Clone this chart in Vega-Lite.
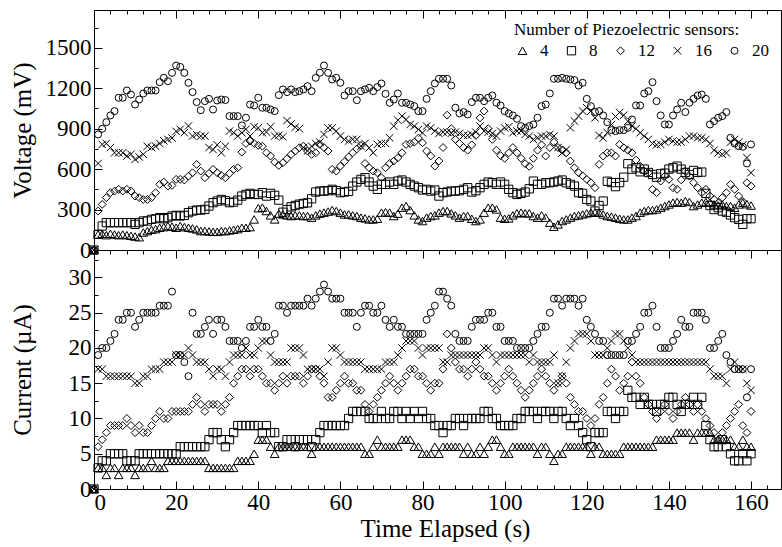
{
"$schema": "https://vega.github.io/schema/vega-lite/v6.json",
"padding": {"left": 9, "top": 9, "right": 0, "bottom": 0},
"background": "white",
"spacing": 0,
"bounds": "flush",
"config": {
  "view": {"stroke": "black", "strokeWidth": 1},
  "font": "Liberation Serif, Times New Roman, DejaVu Serif, serif",
  "axis": {"labelFont": "Liberation Serif, Times New Roman, DejaVu Serif, serif", "titleFont": "Liberation Serif, Times New Roman, DejaVu Serif, serif", "labelColor": "black", "titleColor": "black", "tickColor": "black", "domain": false, "grid": false, "labelFontSize": 23, "titleFontSize": 25, "titleFontWeight": "normal", "tickWidth": 1},
  "legend": {"orient": "top-right", "direction": "horizontal", "columns": 5, "offset": 12, "titleFont": "Liberation Serif, Times New Roman, DejaVu Serif, serif", "titleFontSize": 17, "titleFontWeight": "normal", "titleColor": "black", "titleLimit": 500, "labelFont": "Liberation Serif, Times New Roman, DejaVu Serif, serif", "labelFontSize": 17, "labelColor": "black", "labelOffset": 9, "columnPadding": 14, "symbolStrokeColor": "black", "symbolStrokeWidth": 1, "symbolFillColor": "transparent", "padding": 0, "titlePadding": 3}
},
"data": {"values": [
{"t":0,"n":4,"v":0,"c":0},{"t":0,"n":8,"v":0,"c":0},{"t":0,"n":12,"v":0,"c":0},{"t":0,"n":16,"v":0,"c":0},{"t":0,"n":20,"v":0,"c":0},
{"t":1,"n":4,"v":115,"c":3},{"t":2,"n":4,"v":120,"c":3},{"t":3,"n":4,"v":110,"c":2},{"t":4,"n":4,"v":120,"c":3},{"t":5,"n":4,"v":115,"c":3},{"t":6,"n":4,"v":110,"c":2},{"t":7,"n":4,"v":115,"c":3},{"t":8,"n":4,"v":110,"c":3},{"t":9,"n":4,"v":105,"c":3},{"t":10,"n":4,"v":100,"c":2},
{"t":11,"n":4,"v":95,"c":3},{"t":12,"n":4,"v":130,"c":3},{"t":13,"n":4,"v":140,"c":3},{"t":14,"n":4,"v":150,"c":4},{"t":15,"n":4,"v":155,"c":3},{"t":16,"n":4,"v":165,"c":3},{"t":17,"n":4,"v":170,"c":3},{"t":18,"n":4,"v":178,"c":4},{"t":19,"n":4,"v":173,"c":4},{"t":20,"n":4,"v":165,"c":4},
{"t":21,"n":4,"v":178,"c":4},{"t":22,"n":4,"v":170,"c":4},{"t":23,"n":4,"v":165,"c":4},{"t":24,"n":4,"v":160,"c":4},{"t":25,"n":4,"v":153,"c":4},{"t":26,"n":4,"v":141,"c":4},{"t":27,"n":4,"v":141,"c":4},{"t":28,"n":4,"v":138,"c":3},{"t":29,"n":4,"v":135,"c":3},{"t":30,"n":4,"v":135,"c":3},
{"t":31,"n":4,"v":140,"c":3},{"t":32,"n":4,"v":140,"c":3},{"t":33,"n":4,"v":145,"c":3},{"t":34,"n":4,"v":150,"c":3},{"t":35,"n":4,"v":155,"c":4},{"t":36,"n":4,"v":165,"c":4},{"t":37,"n":4,"v":165,"c":4},{"t":38,"n":4,"v":170,"c":4},{"t":39,"n":4,"v":227,"c":5},{"t":40,"n":4,"v":310,"c":7},
{"t":41,"n":4,"v":314,"c":7},{"t":42,"n":4,"v":289,"c":7},{"t":43,"n":4,"v":257,"c":6},{"t":44,"n":4,"v":227,"c":5},{"t":45,"n":4,"v":270,"c":6},{"t":46,"n":4,"v":264,"c":6},{"t":47,"n":4,"v":257,"c":6},{"t":48,"n":4,"v":252,"c":6},{"t":49,"n":4,"v":257,"c":6},{"t":50,"n":4,"v":257,"c":6},
{"t":51,"n":4,"v":252,"c":6},{"t":52,"n":4,"v":252,"c":6},{"t":53,"n":4,"v":240,"c":5},{"t":54,"n":4,"v":257,"c":6},{"t":55,"n":4,"v":270,"c":6},{"t":56,"n":4,"v":277,"c":6},{"t":57,"n":4,"v":285,"c":6},{"t":58,"n":4,"v":296,"c":6},{"t":59,"n":4,"v":289,"c":6},{"t":60,"n":4,"v":277,"c":6},
{"t":61,"n":4,"v":264,"c":6},{"t":62,"n":4,"v":264,"c":6},{"t":63,"n":4,"v":257,"c":6},{"t":64,"n":4,"v":252,"c":6},{"t":65,"n":4,"v":240,"c":6},{"t":66,"n":4,"v":235,"c":5},{"t":67,"n":4,"v":227,"c":5},{"t":68,"n":4,"v":227,"c":6},{"t":69,"n":4,"v":232,"c":7},{"t":70,"n":4,"v":277,"c":6},
{"t":71,"n":4,"v":280,"c":6},{"t":72,"n":4,"v":277,"c":6},{"t":73,"n":4,"v":252,"c":6},{"t":74,"n":4,"v":270,"c":6},{"t":75,"n":4,"v":314,"c":7},{"t":76,"n":4,"v":326,"c":7},{"t":77,"n":4,"v":296,"c":7},{"t":78,"n":4,"v":257,"c":6},{"t":79,"n":4,"v":227,"c":6},{"t":80,"n":4,"v":215,"c":5},
{"t":81,"n":4,"v":240,"c":5},{"t":82,"n":4,"v":252,"c":5},{"t":83,"n":4,"v":257,"c":6},{"t":84,"n":4,"v":277,"c":5},{"t":85,"n":4,"v":289,"c":6},{"t":86,"n":4,"v":289,"c":6},{"t":87,"n":4,"v":272,"c":6},{"t":88,"n":4,"v":257,"c":6},{"t":89,"n":4,"v":240,"c":6},{"t":90,"n":4,"v":252,"c":5},
{"t":91,"n":4,"v":252,"c":6},{"t":92,"n":4,"v":232,"c":5},{"t":93,"n":4,"v":215,"c":5},{"t":94,"n":4,"v":227,"c":6},{"t":95,"n":4,"v":277,"c":5},{"t":96,"n":4,"v":314,"c":6},{"t":97,"n":4,"v":314,"c":7},{"t":98,"n":4,"v":301,"c":7},{"t":99,"n":4,"v":240,"c":6},{"t":100,"n":4,"v":232,"c":5},
{"t":101,"n":4,"v":235,"c":5},{"t":102,"n":4,"v":257,"c":6},{"t":103,"n":4,"v":272,"c":6},{"t":104,"n":4,"v":277,"c":6},{"t":105,"n":4,"v":272,"c":6},{"t":106,"n":4,"v":272,"c":6},{"t":107,"n":4,"v":252,"c":6},{"t":108,"n":4,"v":240,"c":5},{"t":109,"n":4,"v":257,"c":6},{"t":110,"n":4,"v":240,"c":6},
{"t":111,"n":4,"v":203,"c":5},{"t":112,"n":4,"v":173,"c":4},{"t":113,"n":4,"v":190,"c":5},{"t":114,"n":4,"v":215,"c":5},{"t":115,"n":4,"v":227,"c":6},{"t":116,"n":4,"v":240,"c":6},{"t":117,"n":4,"v":252,"c":6},{"t":118,"n":4,"v":257,"c":6},{"t":119,"n":4,"v":264,"c":6},{"t":120,"n":4,"v":272,"c":6},
{"t":121,"n":4,"v":277,"c":5},{"t":122,"n":4,"v":277,"c":6},{"t":123,"n":4,"v":277,"c":6},{"t":124,"n":4,"v":264,"c":5},{"t":125,"n":4,"v":252,"c":5},{"t":126,"n":4,"v":247,"c":5},{"t":127,"n":4,"v":240,"c":5},{"t":128,"n":4,"v":232,"c":5},{"t":129,"n":4,"v":227,"c":6},{"t":130,"n":4,"v":227,"c":6},
{"t":131,"n":4,"v":240,"c":6},{"t":132,"n":4,"v":252,"c":6},{"t":133,"n":4,"v":277,"c":6},{"t":134,"n":4,"v":289,"c":6},{"t":135,"n":4,"v":296,"c":6},{"t":136,"n":4,"v":296,"c":6},{"t":137,"n":4,"v":301,"c":7},{"t":138,"n":4,"v":314,"c":7},{"t":139,"n":4,"v":326,"c":7},{"t":140,"n":4,"v":338,"c":7},
{"t":141,"n":4,"v":351,"c":7},{"t":142,"n":4,"v":356,"c":8},{"t":143,"n":4,"v":351,"c":8},{"t":144,"n":4,"v":363,"c":8},{"t":145,"n":4,"v":356,"c":8},{"t":146,"n":4,"v":326,"c":7},{"t":147,"n":4,"v":338,"c":8},{"t":148,"n":4,"v":351,"c":8},{"t":149,"n":4,"v":356,"c":8},{"t":150,"n":4,"v":351,"c":8},
{"t":151,"n":4,"v":338,"c":7},{"t":152,"n":4,"v":331,"c":7},{"t":153,"n":4,"v":338,"c":7},{"t":154,"n":4,"v":326,"c":7},{"t":155,"n":4,"v":326,"c":7},{"t":156,"n":4,"v":314,"c":6},{"t":157,"n":4,"v":338,"c":6},{"t":158,"n":4,"v":351,"c":7},{"t":159,"n":4,"v":340,"c":6},{"t":160,"n":4,"v":330,"c":6},
{"t":1,"n":8,"v":116,"c":3},{"t":2,"n":8,"v":178,"c":4},{"t":3,"n":8,"v":203,"c":4},{"t":4,"n":8,"v":203,"c":5},{"t":5,"n":8,"v":203,"c":5},{"t":6,"n":8,"v":203,"c":5},{"t":7,"n":8,"v":203,"c":5},{"t":8,"n":8,"v":203,"c":4},{"t":9,"n":8,"v":203,"c":4},{"t":10,"n":8,"v":190,"c":4},
{"t":11,"n":8,"v":203,"c":5},{"t":12,"n":8,"v":215,"c":5},{"t":13,"n":8,"v":215,"c":5},{"t":14,"n":8,"v":227,"c":5},{"t":15,"n":8,"v":232,"c":5},{"t":16,"n":8,"v":240,"c":5},{"t":17,"n":8,"v":232,"c":5},{"t":18,"n":8,"v":240,"c":5},{"t":19,"n":8,"v":252,"c":5},{"t":20,"n":8,"v":257,"c":5},
{"t":21,"n":8,"v":252,"c":6},{"t":22,"n":8,"v":257,"c":6},{"t":23,"n":8,"v":277,"c":6},{"t":24,"n":8,"v":289,"c":6},{"t":25,"n":8,"v":296,"c":6},{"t":26,"n":8,"v":296,"c":6},{"t":27,"n":8,"v":301,"c":6},{"t":28,"n":8,"v":326,"c":7},{"t":29,"n":8,"v":351,"c":8},{"t":30,"n":8,"v":363,"c":8},
{"t":31,"n":8,"v":375,"c":7},{"t":32,"n":8,"v":365,"c":6},{"t":33,"n":8,"v":351,"c":7},{"t":34,"n":8,"v":355,"c":8},{"t":35,"n":8,"v":370,"c":9},{"t":36,"n":8,"v":400,"c":9},{"t":37,"n":8,"v":412,"c":9},{"t":38,"n":8,"v":420,"c":9},{"t":39,"n":8,"v":412,"c":9},{"t":40,"n":8,"v":412,"c":9},
{"t":41,"n":8,"v":425,"c":8},{"t":42,"n":8,"v":400,"c":9},{"t":43,"n":8,"v":420,"c":8},{"t":44,"n":8,"v":405,"c":8},{"t":45,"n":8,"v":370,"c":6},{"t":46,"n":8,"v":280,"c":6},{"t":47,"n":8,"v":300,"c":7},{"t":48,"n":8,"v":320,"c":7},{"t":49,"n":8,"v":330,"c":6},{"t":50,"n":8,"v":340,"c":7},
{"t":51,"n":8,"v":345,"c":7},{"t":52,"n":8,"v":350,"c":7},{"t":53,"n":8,"v":380,"c":6},{"t":54,"n":8,"v":430,"c":7},{"t":55,"n":8,"v":437,"c":8},{"t":56,"n":8,"v":437,"c":9},{"t":57,"n":8,"v":440,"c":9},{"t":58,"n":8,"v":450,"c":9},{"t":59,"n":8,"v":440,"c":9},{"t":60,"n":8,"v":425,"c":9},
{"t":61,"n":8,"v":430,"c":9},{"t":62,"n":8,"v":435,"c":10},{"t":63,"n":8,"v":474,"c":11},{"t":64,"n":8,"v":504,"c":11},{"t":65,"n":8,"v":524,"c":11},{"t":66,"n":8,"v":536,"c":11},{"t":67,"n":8,"v":504,"c":10},{"t":68,"n":8,"v":474,"c":10},{"t":69,"n":8,"v":450,"c":10},{"t":70,"n":8,"v":487,"c":11},
{"t":71,"n":8,"v":487,"c":10},{"t":72,"n":8,"v":504,"c":10},{"t":73,"n":8,"v":487,"c":11},{"t":74,"n":8,"v":511,"c":11},{"t":75,"n":8,"v":519,"c":10},{"t":76,"n":8,"v":504,"c":11},{"t":77,"n":8,"v":487,"c":10},{"t":78,"n":8,"v":474,"c":11},{"t":79,"n":8,"v":462,"c":10},{"t":80,"n":8,"v":445,"c":11},
{"t":81,"n":8,"v":450,"c":10},{"t":82,"n":8,"v":437,"c":10},{"t":83,"n":8,"v":445,"c":9},{"t":84,"n":8,"v":400,"c":9},{"t":85,"n":8,"v":425,"c":8},{"t":86,"n":8,"v":430,"c":9},{"t":87,"n":8,"v":437,"c":9},{"t":88,"n":8,"v":437,"c":10},{"t":89,"n":8,"v":440,"c":10},{"t":90,"n":8,"v":450,"c":9},
{"t":91,"n":8,"v":462,"c":10},{"t":92,"n":8,"v":430,"c":10},{"t":93,"n":8,"v":440,"c":10},{"t":94,"n":8,"v":462,"c":10},{"t":95,"n":8,"v":487,"c":11},{"t":96,"n":8,"v":504,"c":11},{"t":97,"n":8,"v":499,"c":10},{"t":98,"n":8,"v":487,"c":10},{"t":99,"n":8,"v":504,"c":9},{"t":100,"n":8,"v":487,"c":9},
{"t":101,"n":8,"v":450,"c":9},{"t":102,"n":8,"v":425,"c":9},{"t":103,"n":8,"v":412,"c":10},{"t":104,"n":8,"v":420,"c":10},{"t":105,"n":8,"v":430,"c":11},{"t":106,"n":8,"v":454,"c":11},{"t":107,"n":8,"v":511,"c":11},{"t":108,"n":8,"v":487,"c":10},{"t":109,"n":8,"v":487,"c":11},{"t":110,"n":8,"v":499,"c":11},
{"t":111,"n":8,"v":499,"c":11},{"t":112,"n":8,"v":504,"c":10},{"t":113,"n":8,"v":511,"c":11},{"t":114,"n":8,"v":519,"c":11},{"t":115,"n":8,"v":499,"c":10},{"t":116,"n":8,"v":487,"c":9},{"t":117,"n":8,"v":474,"c":10},{"t":118,"n":8,"v":425,"c":9},{"t":119,"n":8,"v":420,"c":8},{"t":120,"n":8,"v":375,"c":7},
{"t":121,"n":8,"v":363,"c":6},{"t":122,"n":8,"v":289,"c":8},{"t":123,"n":8,"v":330,"c":8},{"t":124,"n":8,"v":363,"c":8},{"t":125,"n":8,"v":510,"c":11},{"t":126,"n":8,"v":500,"c":11},{"t":127,"n":8,"v":470,"c":10},{"t":128,"n":8,"v":500,"c":11},{"t":129,"n":8,"v":540,"c":11},{"t":130,"n":8,"v":640,"c":14},
{"t":131,"n":8,"v":600,"c":13},{"t":132,"n":8,"v":610,"c":13},{"t":133,"n":8,"v":580,"c":12},{"t":134,"n":8,"v":600,"c":13},{"t":135,"n":8,"v":575,"c":12},{"t":136,"n":8,"v":560,"c":12},{"t":137,"n":8,"v":540,"c":11},{"t":138,"n":8,"v":565,"c":12},{"t":139,"n":8,"v":570,"c":12},{"t":140,"n":8,"v":600,"c":13},
{"t":141,"n":8,"v":610,"c":13},{"t":142,"n":8,"v":622,"c":12},{"t":143,"n":8,"v":600,"c":11},{"t":144,"n":8,"v":575,"c":12},{"t":145,"n":8,"v":560,"c":12},{"t":146,"n":8,"v":590,"c":13},{"t":147,"n":8,"v":575,"c":12},{"t":148,"n":8,"v":578,"c":13},{"t":149,"n":8,"v":420,"c":9},{"t":150,"n":8,"v":330,"c":7},
{"t":151,"n":8,"v":300,"c":6},{"t":152,"n":8,"v":314,"c":6},{"t":153,"n":8,"v":289,"c":7},{"t":154,"n":8,"v":280,"c":6},{"t":155,"n":8,"v":260,"c":5},{"t":156,"n":8,"v":240,"c":4},{"t":157,"n":8,"v":227,"c":4},{"t":158,"n":8,"v":190,"c":5},{"t":159,"n":8,"v":232,"c":4},{"t":160,"n":8,"v":232,"c":5},
{"t":1,"n":12,"v":289,"c":6},{"t":2,"n":12,"v":338,"c":7},{"t":3,"n":12,"v":388,"c":8},{"t":4,"n":12,"v":425,"c":9},{"t":5,"n":12,"v":437,"c":9},{"t":6,"n":12,"v":450,"c":9},{"t":7,"n":12,"v":437,"c":9},{"t":8,"n":12,"v":450,"c":10},{"t":9,"n":12,"v":437,"c":9},{"t":10,"n":12,"v":400,"c":8},
{"t":11,"n":12,"v":388,"c":9},{"t":12,"n":12,"v":375,"c":8},{"t":13,"n":12,"v":375,"c":8},{"t":14,"n":12,"v":388,"c":9},{"t":15,"n":12,"v":425,"c":10},{"t":16,"n":12,"v":487,"c":11},{"t":17,"n":12,"v":504,"c":10},{"t":18,"n":12,"v":474,"c":10},{"t":19,"n":12,"v":479,"c":11},{"t":20,"n":12,"v":524,"c":11},
{"t":21,"n":12,"v":524,"c":11},{"t":22,"n":12,"v":519,"c":11},{"t":23,"n":12,"v":548,"c":11},{"t":24,"n":12,"v":573,"c":12},{"t":25,"n":12,"v":635,"c":13},{"t":26,"n":12,"v":585,"c":12},{"t":27,"n":12,"v":536,"c":11},{"t":28,"n":12,"v":568,"c":12},{"t":29,"n":12,"v":598,"c":12},{"t":30,"n":12,"v":573,"c":12},
{"t":31,"n":12,"v":553,"c":11},{"t":32,"n":12,"v":536,"c":12},{"t":33,"n":12,"v":568,"c":13},{"t":34,"n":12,"v":598,"c":15},{"t":35,"n":12,"v":610,"c":16},{"t":36,"n":12,"v":726,"c":17},{"t":37,"n":12,"v":790,"c":17},{"t":38,"n":12,"v":808,"c":16},{"t":39,"n":12,"v":790,"c":17},{"t":40,"n":12,"v":776,"c":17},
{"t":41,"n":12,"v":770,"c":16},{"t":42,"n":12,"v":721,"c":15},{"t":43,"n":12,"v":697,"c":15},{"t":44,"n":12,"v":652,"c":14},{"t":45,"n":12,"v":627,"c":15},{"t":46,"n":12,"v":647,"c":16},{"t":47,"n":12,"v":677,"c":15},{"t":48,"n":12,"v":709,"c":16},{"t":49,"n":12,"v":734,"c":16},{"t":50,"n":12,"v":758,"c":16},
{"t":51,"n":12,"v":770,"c":15},{"t":52,"n":12,"v":734,"c":16},{"t":53,"n":12,"v":709,"c":17},{"t":54,"n":12,"v":721,"c":17},{"t":55,"n":12,"v":783,"c":16},{"t":56,"n":12,"v":760,"c":15},{"t":57,"n":12,"v":734,"c":13},{"t":58,"n":12,"v":598,"c":13},{"t":59,"n":12,"v":585,"c":14},{"t":60,"n":12,"v":622,"c":15},
{"t":61,"n":12,"v":655,"c":16},{"t":62,"n":12,"v":690,"c":15},{"t":63,"n":12,"v":721,"c":15},{"t":64,"n":12,"v":750,"c":14},{"t":65,"n":12,"v":775,"c":14},{"t":66,"n":12,"v":642,"c":12},{"t":67,"n":12,"v":610,"c":11},{"t":68,"n":12,"v":585,"c":12},{"t":69,"n":12,"v":573,"c":13},{"t":70,"n":12,"v":536,"c":14},
{"t":71,"n":12,"v":610,"c":15},{"t":72,"n":12,"v":642,"c":16},{"t":73,"n":12,"v":660,"c":15},{"t":74,"n":12,"v":684,"c":14},{"t":75,"n":12,"v":721,"c":15},{"t":76,"n":12,"v":783,"c":16},{"t":77,"n":12,"v":790,"c":17},{"t":78,"n":12,"v":800,"c":17},{"t":79,"n":12,"v":830,"c":16},{"t":80,"n":12,"v":795,"c":16},
{"t":81,"n":12,"v":734,"c":15},{"t":82,"n":12,"v":697,"c":14},{"t":83,"n":12,"v":622,"c":15},{"t":84,"n":12,"v":660,"c":15},{"t":85,"n":12,"v":760,"c":17},{"t":86,"n":12,"v":1000,"c":22},{"t":87,"n":12,"v":900,"c":20},{"t":88,"n":12,"v":820,"c":18},{"t":89,"n":12,"v":790,"c":17},{"t":90,"n":12,"v":760,"c":17},
{"t":91,"n":12,"v":740,"c":16},{"t":92,"n":12,"v":780,"c":17},{"t":93,"n":12,"v":850,"c":18},{"t":94,"n":12,"v":980,"c":17},{"t":95,"n":12,"v":1030,"c":16},{"t":96,"n":12,"v":900,"c":16},{"t":97,"n":12,"v":820,"c":15},{"t":98,"n":12,"v":740,"c":14},{"t":99,"n":12,"v":700,"c":15},{"t":100,"n":12,"v":680,"c":16},
{"t":101,"n":12,"v":720,"c":17},{"t":102,"n":12,"v":760,"c":16},{"t":103,"n":12,"v":720,"c":15},{"t":104,"n":12,"v":680,"c":14},{"t":105,"n":12,"v":640,"c":13},{"t":106,"n":12,"v":620,"c":14},{"t":107,"n":12,"v":680,"c":15},{"t":108,"n":12,"v":740,"c":16},{"t":109,"n":12,"v":780,"c":17},{"t":110,"n":12,"v":697,"c":16},
{"t":111,"n":12,"v":760,"c":15},{"t":112,"n":12,"v":800,"c":14},{"t":113,"n":12,"v":760,"c":15},{"t":114,"n":12,"v":740,"c":16},{"t":115,"n":12,"v":721,"c":15},{"t":116,"n":12,"v":660,"c":13},{"t":117,"n":12,"v":610,"c":12},{"t":118,"n":12,"v":573,"c":11},{"t":119,"n":12,"v":550,"c":11},{"t":120,"n":12,"v":524,"c":10},
{"t":121,"n":12,"v":499,"c":9},{"t":122,"n":12,"v":462,"c":10},{"t":123,"n":12,"v":635,"c":12},{"t":124,"n":12,"v":697,"c":13},{"t":125,"n":12,"v":721,"c":15},{"t":126,"n":12,"v":721,"c":17},{"t":127,"n":12,"v":697,"c":16},{"t":128,"n":12,"v":783,"c":14},{"t":129,"n":12,"v":758,"c":15},{"t":130,"n":12,"v":740,"c":16},
{"t":131,"n":12,"v":721,"c":18},{"t":132,"n":12,"v":667,"c":16},{"t":133,"n":12,"v":622,"c":15},{"t":134,"n":12,"v":585,"c":13},{"t":135,"n":12,"v":573,"c":12},{"t":136,"n":12,"v":450,"c":11},{"t":137,"n":12,"v":425,"c":10},{"t":138,"n":12,"v":511,"c":11},{"t":139,"n":12,"v":548,"c":12},{"t":140,"n":12,"v":524,"c":11},
{"t":141,"n":12,"v":462,"c":10},{"t":142,"n":12,"v":450,"c":11},{"t":143,"n":12,"v":520,"c":12},{"t":144,"n":12,"v":585,"c":13},{"t":145,"n":12,"v":548,"c":12},{"t":146,"n":12,"v":499,"c":11},{"t":147,"n":12,"v":462,"c":12},{"t":148,"n":12,"v":425,"c":11},{"t":149,"n":12,"v":450,"c":10},{"t":150,"n":12,"v":400,"c":9},
{"t":151,"n":12,"v":375,"c":8},{"t":152,"n":12,"v":351,"c":7},{"t":153,"n":12,"v":388,"c":8},{"t":154,"n":12,"v":425,"c":9},{"t":155,"n":12,"v":487,"c":10},{"t":156,"n":12,"v":450,"c":11},{"t":157,"n":12,"v":400,"c":12},{"t":158,"n":12,"v":360,"c":9},{"t":159,"n":12,"v":499,"c":8},{"t":160,"n":12,"v":474,"c":11},
{"t":1,"n":16,"v":642,"c":17},{"t":2,"n":16,"v":783,"c":17},{"t":3,"n":16,"v":790,"c":16},{"t":4,"n":16,"v":760,"c":16},{"t":5,"n":16,"v":721,"c":16},{"t":6,"n":16,"v":721,"c":16},{"t":7,"n":16,"v":721,"c":16},{"t":8,"n":16,"v":697,"c":16},{"t":9,"n":16,"v":710,"c":16},{"t":10,"n":16,"v":672,"c":15},
{"t":11,"n":16,"v":690,"c":15},{"t":12,"n":16,"v":710,"c":16},{"t":13,"n":16,"v":770,"c":16},{"t":14,"n":16,"v":760,"c":17},{"t":15,"n":16,"v":770,"c":17},{"t":16,"n":16,"v":790,"c":17},{"t":17,"n":16,"v":810,"c":18},{"t":18,"n":16,"v":820,"c":18},{"t":19,"n":16,"v":830,"c":18},{"t":20,"n":16,"v":880,"c":19},
{"t":21,"n":16,"v":895,"c":19},{"t":22,"n":16,"v":870,"c":19},{"t":23,"n":16,"v":920,"c":20},{"t":24,"n":16,"v":845,"c":19},{"t":25,"n":16,"v":855,"c":18},{"t":26,"n":16,"v":845,"c":18},{"t":27,"n":16,"v":845,"c":18},{"t":28,"n":16,"v":760,"c":17},{"t":29,"n":16,"v":745,"c":16},{"t":30,"n":16,"v":780,"c":17},
{"t":31,"n":16,"v":721,"c":17},{"t":32,"n":16,"v":770,"c":16},{"t":33,"n":16,"v":882,"c":18},{"t":34,"n":16,"v":870,"c":19},{"t":35,"n":16,"v":845,"c":19},{"t":36,"n":16,"v":870,"c":19},{"t":37,"n":16,"v":895,"c":20},{"t":38,"n":16,"v":845,"c":19},{"t":39,"n":16,"v":914,"c":19},{"t":40,"n":16,"v":905,"c":20},
{"t":41,"n":16,"v":870,"c":21},{"t":42,"n":16,"v":875,"c":21},{"t":43,"n":16,"v":914,"c":19},{"t":44,"n":16,"v":845,"c":18},{"t":45,"n":16,"v":850,"c":18},{"t":46,"n":16,"v":840,"c":18},{"t":47,"n":16,"v":960,"c":18},{"t":48,"n":16,"v":935,"c":20},{"t":49,"n":16,"v":910,"c":20},{"t":50,"n":16,"v":900,"c":20},
{"t":51,"n":16,"v":760,"c":19},{"t":52,"n":16,"v":735,"c":17},{"t":53,"n":16,"v":770,"c":17},{"t":54,"n":16,"v":790,"c":17},{"t":55,"n":16,"v":800,"c":17},{"t":56,"n":16,"v":857,"c":16},{"t":57,"n":16,"v":906,"c":18},{"t":58,"n":16,"v":906,"c":20},{"t":59,"n":16,"v":882,"c":20},{"t":60,"n":16,"v":845,"c":19},
{"t":61,"n":16,"v":820,"c":18},{"t":62,"n":16,"v":808,"c":18},{"t":63,"n":16,"v":820,"c":18},{"t":64,"n":16,"v":820,"c":18},{"t":65,"n":16,"v":770,"c":18},{"t":66,"n":16,"v":790,"c":17},{"t":67,"n":16,"v":758,"c":17},{"t":68,"n":16,"v":721,"c":17},{"t":69,"n":16,"v":783,"c":17},{"t":70,"n":16,"v":790,"c":17},
{"t":71,"n":16,"v":790,"c":18},{"t":72,"n":16,"v":832,"c":18},{"t":73,"n":16,"v":919,"c":18},{"t":74,"n":16,"v":963,"c":19},{"t":75,"n":16,"v":993,"c":20},{"t":76,"n":16,"v":968,"c":21},{"t":77,"n":16,"v":931,"c":21},{"t":78,"n":16,"v":919,"c":21},{"t":79,"n":16,"v":894,"c":20},{"t":80,"n":16,"v":869,"c":19},
{"t":81,"n":16,"v":919,"c":20},{"t":82,"n":16,"v":906,"c":20},{"t":83,"n":16,"v":882,"c":20},{"t":84,"n":16,"v":865,"c":20},{"t":85,"n":16,"v":874,"c":18},{"t":86,"n":16,"v":874,"c":18},{"t":87,"n":16,"v":865,"c":19},{"t":88,"n":16,"v":874,"c":19},{"t":89,"n":16,"v":865,"c":19},{"t":90,"n":16,"v":850,"c":19},
{"t":91,"n":16,"v":850,"c":19},{"t":92,"n":16,"v":857,"c":19},{"t":93,"n":16,"v":874,"c":19},{"t":94,"n":16,"v":919,"c":19},{"t":95,"n":16,"v":882,"c":20},{"t":96,"n":16,"v":874,"c":20},{"t":97,"n":16,"v":865,"c":19},{"t":98,"n":16,"v":845,"c":18},{"t":99,"n":16,"v":882,"c":19},{"t":100,"n":16,"v":906,"c":19},
{"t":101,"n":16,"v":914,"c":19},{"t":102,"n":16,"v":869,"c":19},{"t":103,"n":16,"v":882,"c":19},{"t":104,"n":16,"v":882,"c":19},{"t":105,"n":16,"v":857,"c":19},{"t":106,"n":16,"v":845,"c":18},{"t":107,"n":16,"v":820,"c":19},{"t":108,"n":16,"v":832,"c":18},{"t":109,"n":16,"v":845,"c":18},{"t":110,"n":16,"v":845,"c":18},
{"t":111,"n":16,"v":857,"c":18},{"t":112,"n":16,"v":845,"c":19},{"t":113,"n":16,"v":760,"c":15},{"t":114,"n":16,"v":720,"c":16},{"t":115,"n":16,"v":745,"c":18},{"t":116,"n":16,"v":906,"c":20},{"t":117,"n":16,"v":956,"c":21},{"t":118,"n":16,"v":993,"c":22},{"t":119,"n":16,"v":1030,"c":22},{"t":120,"n":16,"v":1055,"c":22},
{"t":121,"n":16,"v":1030,"c":21},{"t":122,"n":16,"v":980,"c":19},{"t":123,"n":16,"v":850,"c":19},{"t":124,"n":16,"v":830,"c":19},{"t":125,"n":16,"v":870,"c":20},{"t":126,"n":16,"v":930,"c":21},{"t":127,"n":16,"v":990,"c":22},{"t":128,"n":16,"v":1020,"c":22},{"t":129,"n":16,"v":1000,"c":21},{"t":130,"n":16,"v":955,"c":20},
{"t":131,"n":16,"v":920,"c":19},{"t":132,"n":16,"v":900,"c":18},{"t":133,"n":16,"v":870,"c":18},{"t":134,"n":16,"v":845,"c":18},{"t":135,"n":16,"v":820,"c":18},{"t":136,"n":16,"v":790,"c":18},{"t":137,"n":16,"v":780,"c":18},{"t":138,"n":16,"v":783,"c":18},{"t":139,"n":16,"v":800,"c":18},{"t":140,"n":16,"v":820,"c":18},
{"t":141,"n":16,"v":808,"c":18},{"t":142,"n":16,"v":800,"c":18},{"t":143,"n":16,"v":800,"c":18},{"t":144,"n":16,"v":820,"c":18},{"t":145,"n":16,"v":845,"c":18},{"t":146,"n":16,"v":845,"c":18},{"t":147,"n":16,"v":832,"c":18},{"t":148,"n":16,"v":832,"c":18},{"t":149,"n":16,"v":820,"c":18},{"t":150,"n":16,"v":790,"c":17},
{"t":151,"n":16,"v":740,"c":16},{"t":152,"n":16,"v":720,"c":16},{"t":153,"n":16,"v":710,"c":16},{"t":154,"n":16,"v":720,"c":15},{"t":155,"n":16,"v":800,"c":17},{"t":156,"n":16,"v":820,"c":18},{"t":157,"n":16,"v":800,"c":17},{"t":158,"n":16,"v":780,"c":17},{"t":159,"n":16,"v":685,"c":15},{"t":160,"n":16,"v":573,"c":14},
{"t":1,"n":20,"v":857,"c":19},{"t":2,"n":20,"v":899,"c":20},{"t":3,"n":20,"v":948,"c":20},{"t":4,"n":20,"v":998,"c":21},{"t":5,"n":20,"v":1030,"c":22},{"t":6,"n":20,"v":1129,"c":24},{"t":7,"n":20,"v":1129,"c":24},{"t":8,"n":20,"v":1183,"c":25},{"t":9,"n":20,"v":1153,"c":25},{"t":10,"n":20,"v":1079,"c":23},
{"t":11,"n":20,"v":1116,"c":24},{"t":12,"n":20,"v":1161,"c":25},{"t":13,"n":20,"v":1183,"c":25},{"t":14,"n":20,"v":1183,"c":25},{"t":15,"n":20,"v":1183,"c":25},{"t":16,"n":20,"v":1245,"c":26},{"t":17,"n":20,"v":1277,"c":26},{"t":18,"n":20,"v":1252,"c":26},{"t":19,"n":20,"v":1314,"c":28},{"t":20,"n":20,"v":1368,"c":19},
{"t":21,"n":20,"v":1358,"c":19},{"t":22,"n":20,"v":1314,"c":18},{"t":23,"n":20,"v":1240,"c":16},{"t":24,"n":20,"v":1171,"c":25},{"t":25,"n":20,"v":1097,"c":22},{"t":26,"n":20,"v":1037,"c":22},{"t":27,"n":20,"v":1104,"c":23},{"t":28,"n":20,"v":1121,"c":24},{"t":29,"n":20,"v":1042,"c":22},{"t":30,"n":20,"v":1109,"c":24},
{"t":31,"n":20,"v":1116,"c":24},{"t":32,"n":20,"v":1112,"c":23},{"t":33,"n":20,"v":993,"c":21},{"t":34,"n":20,"v":993,"c":21},{"t":35,"n":20,"v":993,"c":21},{"t":36,"n":20,"v":924,"c":20},{"t":37,"n":20,"v":981,"c":21},{"t":38,"n":20,"v":1079,"c":23},{"t":39,"n":20,"v":1072,"c":23},{"t":40,"n":20,"v":1129,"c":24},
{"t":41,"n":20,"v":1055,"c":23},{"t":42,"n":20,"v":1055,"c":23},{"t":43,"n":20,"v":1042,"c":21},{"t":44,"n":20,"v":1030,"c":22},{"t":45,"n":20,"v":1149,"c":26},{"t":46,"n":20,"v":1191,"c":26},{"t":47,"n":20,"v":1171,"c":25},{"t":48,"n":20,"v":1191,"c":26},{"t":49,"n":20,"v":1171,"c":26},{"t":50,"n":20,"v":1178,"c":26},
{"t":51,"n":20,"v":1191,"c":26},{"t":52,"n":20,"v":1215,"c":27},{"t":53,"n":20,"v":1178,"c":26},{"t":54,"n":20,"v":1277,"c":27},{"t":55,"n":20,"v":1315,"c":28},{"t":56,"n":20,"v":1368,"c":29},{"t":57,"n":20,"v":1314,"c":28},{"t":58,"n":20,"v":1265,"c":27},{"t":59,"n":20,"v":1277,"c":27},{"t":60,"n":20,"v":1240,"c":27},
{"t":61,"n":20,"v":1146,"c":25},{"t":62,"n":20,"v":1178,"c":25},{"t":63,"n":20,"v":1178,"c":25},{"t":64,"n":20,"v":1111,"c":23},{"t":65,"n":20,"v":1178,"c":25},{"t":66,"n":20,"v":1191,"c":26},{"t":67,"n":20,"v":1203,"c":26},{"t":68,"n":20,"v":1178,"c":25},{"t":69,"n":20,"v":1208,"c":25},{"t":70,"n":20,"v":1235,"c":26},
{"t":71,"n":20,"v":1158,"c":24},{"t":72,"n":20,"v":1092,"c":23},{"t":73,"n":20,"v":1116,"c":24},{"t":74,"n":20,"v":1161,"c":23},{"t":75,"n":20,"v":1092,"c":23},{"t":76,"n":20,"v":1092,"c":22},{"t":77,"n":20,"v":1079,"c":22},{"t":78,"n":20,"v":1067,"c":22},{"t":79,"n":20,"v":1030,"c":22},{"t":80,"n":20,"v":1030,"c":22},
{"t":81,"n":20,"v":1121,"c":24},{"t":82,"n":20,"v":1178,"c":25},{"t":83,"n":20,"v":1235,"c":26},{"t":84,"n":20,"v":1270,"c":28},{"t":85,"n":20,"v":1270,"c":28},{"t":86,"n":20,"v":1270,"c":27},{"t":87,"n":20,"v":1220,"c":26},{"t":88,"n":20,"v":1055,"c":22},{"t":89,"n":20,"v":1013,"c":21},{"t":90,"n":20,"v":1023,"c":21},
{"t":91,"n":20,"v":1005,"c":21},{"t":92,"n":20,"v":1097,"c":23},{"t":93,"n":20,"v":1129,"c":24},{"t":94,"n":20,"v":1129,"c":24},{"t":95,"n":20,"v":1104,"c":24},{"t":96,"n":20,"v":1129,"c":25},{"t":97,"n":20,"v":1146,"c":25},{"t":98,"n":20,"v":1092,"c":23},{"t":99,"n":20,"v":1072,"c":23},{"t":100,"n":20,"v":1030,"c":21},
{"t":101,"n":20,"v":1013,"c":21},{"t":102,"n":20,"v":998,"c":21},{"t":103,"n":20,"v":973,"c":20},{"t":104,"n":20,"v":919,"c":20},{"t":105,"n":20,"v":906,"c":20},{"t":106,"n":20,"v":919,"c":20},{"t":107,"n":20,"v":931,"c":21},{"t":108,"n":20,"v":981,"c":22},{"t":109,"n":20,"v":1067,"c":23},{"t":110,"n":20,"v":1079,"c":23},
{"t":111,"n":20,"v":1161,"c":25},{"t":112,"n":20,"v":1270,"c":27},{"t":113,"n":20,"v":1270,"c":27},{"t":114,"n":20,"v":1277,"c":26},{"t":115,"n":20,"v":1270,"c":27},{"t":116,"n":20,"v":1265,"c":27},{"t":117,"n":20,"v":1260,"c":27},{"t":118,"n":20,"v":1220,"c":26},{"t":119,"n":20,"v":1240,"c":27},{"t":120,"n":20,"v":1121,"c":24},
{"t":121,"n":20,"v":1067,"c":23},{"t":122,"n":20,"v":1023,"c":22},{"t":123,"n":20,"v":1030,"c":21},{"t":124,"n":20,"v":998,"c":21},{"t":125,"n":20,"v":948,"c":19},{"t":126,"n":20,"v":889,"c":19},{"t":127,"n":20,"v":882,"c":19},{"t":128,"n":20,"v":889,"c":19},{"t":129,"n":20,"v":889,"c":19},{"t":130,"n":20,"v":906,"c":21},
{"t":131,"n":20,"v":968,"c":21},{"t":132,"n":20,"v":1072,"c":22},{"t":133,"n":20,"v":1072,"c":23},{"t":134,"n":20,"v":1161,"c":25},{"t":135,"n":20,"v":1178,"c":25},{"t":136,"n":20,"v":1245,"c":26},{"t":137,"n":20,"v":1104,"c":23},{"t":138,"n":20,"v":998,"c":20},{"t":139,"n":20,"v":931,"c":20},{"t":140,"n":20,"v":931,"c":20},
{"t":141,"n":20,"v":998,"c":21},{"t":142,"n":20,"v":1042,"c":22},{"t":143,"n":20,"v":1092,"c":24},{"t":144,"n":20,"v":1023,"c":23},{"t":145,"n":20,"v":1092,"c":23},{"t":146,"n":20,"v":1121,"c":25},{"t":147,"n":20,"v":1146,"c":25},{"t":148,"n":20,"v":1153,"c":25},{"t":149,"n":20,"v":1121,"c":24},{"t":150,"n":20,"v":931,"c":20},
{"t":151,"n":20,"v":956,"c":20},{"t":152,"n":20,"v":981,"c":21},{"t":153,"n":20,"v":993,"c":22},{"t":154,"n":20,"v":1023,"c":19},{"t":155,"n":20,"v":832,"c":18},{"t":156,"n":20,"v":790,"c":17},{"t":157,"n":20,"v":770,"c":17},{"t":158,"n":20,"v":766,"c":17},{"t":159,"n":20,"v":642,"c":13},{"t":160,"n":20,"v":783,"c":17}
]},
"vconcat": [
  {
    "width": 687,
    "height": 240,
    "mark": {"type": "point", "filled": false, "stroke": "black", "strokeWidth": 1, "opacity": 1},
    "encoding": {
      "x": {"field": "t", "type": "quantitative", "scale": {"domain": [0, 167.3], "nice": false, "zero": false},
            "axis": {"orient": "top", "values": [0,4,8,12,16,20,24,28,32,36,40,44,48,52,56,60,64,68,72,76,80,84,88,92,96,100,104,108,112,116,120,124,128,132,136,140,144,148,152,156,160,164], "labels": false, "title": null,
                     "tickSize": {"condition": {"test": "datum.value % 20 === 0", "value": -8}, "value": -4}}},
      "y": {"field": "v", "type": "quantitative", "scale": {"domain": [0, 1780], "nice": false},
            "axis": {"values": [0,150,300,450,600,750,900,1050,1200,1350,1500,1650], "format": "d", "labelExpr": "datum.value % 300 === 0 ? datum.label : ''",
                     "tickSize": {"condition": {"test": "datum.value % 300 === 0", "value": -8}, "value": -4},
                     "labelPadding": 11, "title": "Voltage (mV)", "titlePadding": 5, "minExtent": 54, "maxExtent": 54}},
      "shape": {"field": "n", "type": "nominal", "title": "Number of Piezoelectric sensors:", "scale": {"domain": [4,8,12,16,20], "range": ["triangle-up", "square", "diamond", "M-1,-1L1,1M-1,1L1,-1", "circle"]}},
      "size": {"field": "n", "type": "nominal", "title": "Number of Piezoelectric sensors:", "scale": {"domain": [4,8,12,16,20], "range": [75, 49, 87, 70, 75]}}
    }
  },
  {
    "width": 687,
    "height": 239,
    "layer": [
      {
        "mark": {"type": "point", "filled": false, "stroke": "black", "strokeWidth": 1, "opacity": 1},
        "encoding": {
          "x": {"field": "t", "type": "quantitative", "scale": {"domain": [0, 167.3], "nice": false, "zero": false},
                "axis": {"orient": "bottom", "values": [0,4,8,12,16,20,24,28,32,36,40,44,48,52,56,60,64,68,72,76,80,84,88,92,96,100,104,108,112,116,120,124,128,132,136,140,144,148,152,156,160,164], "format": "d",
                         "labelExpr": "datum.value % 20 === 0 ? datum.label : ''",
                         "tickSize": {"condition": {"test": "datum.value % 20 === 0", "value": -8}, "value": -4},
                         "labelPadding": 10, "title": "Time Elapsed (s)", "titlePadding": 2, "titleX": 351}},
          "y": {"field": "c", "type": "quantitative", "scale": {"domain": [0, 33.9], "nice": false},
                "axis": {"values": [0,2.5,5,7.5,10,12.5,15,17.5,20,22.5,25,27.5,30,32.5], "labelExpr": "datum.value % 5 === 0 ? datum.label : ''",
                         "tickSize": {"condition": {"test": "datum.value % 5 === 0", "value": -8}, "value": -4},
                         "labelPadding": 11, "title": "Current (µA)", "titlePadding": 5, "minExtent": 54, "maxExtent": 54}},
          "shape": {"field": "n", "type": "nominal", "legend": null, "scale": {"domain": [4,8,12,16,20], "range": ["triangle-up", "square", "diamond", "M-1,-1L1,1M-1,1L1,-1", "circle"]}},
          "size": {"field": "n", "type": "nominal", "legend": null, "scale": {"domain": [4,8,12,16,20], "range": [75, 49, 87, 70, 75]}}
        }
      },
      {
        "data": {"values": [{"t": 0}]},
        "mark": {"type": "point", "opacity": 0},
        "encoding": {
          "x": {"field": "t", "type": "quantitative",
                "axis": {"orient": "top", "values": [0,4,8,12,16,20,24,28,32,36,40,44,48,52,56,60,64,68,72,76,80,84,88,92,96,100,104,108,112,116,120,124,128,132,136,140,144,148,152,156,160,164], "labels": false, "title": null,
                         "tickSize": {"condition": {"test": "datum.value % 20 === 0", "value": -8}, "value": -4}}}
        }
      }
    ],
    "resolve": {"axis": {"x": "independent"}}
  }
],
"resolve": {"scale": {"shape": "independent", "size": "independent"}, "legend": {"shape": "independent", "size": "independent"}}
}
